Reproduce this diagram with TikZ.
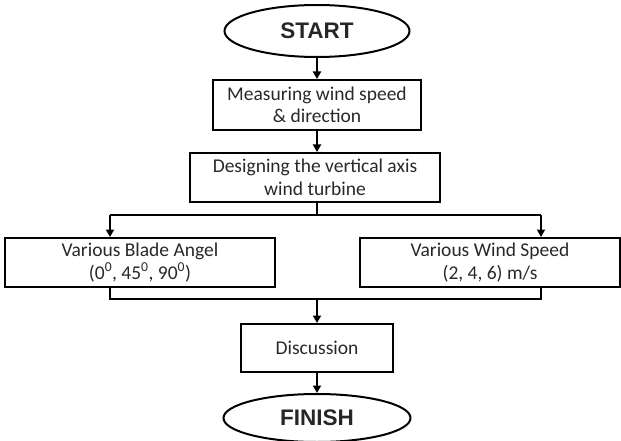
\documentclass[tikz,border=0pt]{standalone}
\usepackage{fontspec}
\setmainfont{Carlito}
\newfontfamily\arialfont{Liberation Sans}
\usetikzlibrary{arrows.meta,shapes.geometric}
\definecolor{txt}{RGB}{40,40,40}
\tikzset{
  boxnode/.style={draw=black, line width=2pt, rectangle, inner sep=0pt, align=center,
    text=txt, font=\fontsize{19.5}{22.5}\selectfont},
  termnode/.style={draw=black, line width=2pt, ellipse, inner sep=0pt,
    text=black!85, font=\arialfont\bfseries\fontsize{22.5}{25}\selectfont},
  conn/.style={line width=2pt, black},
  arr/.style={conn, -{Triangle[length=7.5pt,width=8pt]}},
}
\begin{document}
\begin{tikzpicture}[x=1pt,y=-1pt]
\useasboundingbox (0,0) rectangle (621,441);
\node[termnode, minimum width=185pt, minimum height=52pt] (start) at (317,31) {START};
\node[boxnode, minimum width=208pt, minimum height=50pt] (m1) at (317,105) {Measuring wind speed\\ \& direction};
\node[boxnode, minimum width=250pt, minimum height=49pt] (m2) at (315,177.5) {Designing the vertical axis\\ wind turbine};
\node[boxnode, minimum width=270pt, minimum height=49pt] (la) at (140,262.5) {Various Blade Angel\\ (0\textsuperscript{0}, 45\textsuperscript{0}, 90\textsuperscript{0})};
\node[boxnode, minimum width=260pt, minimum height=49pt] (ra) at (490,262.5) {Various Wind Speed\\ (2, 4, 6) m/s};
\node[boxnode, minimum width=152pt, minimum height=48pt] (disc) at (317,348) {Discussion};
\node[termnode, minimum width=187pt, minimum height=48pt] (fin) at (317,418) {FINISH};
\coordinate (split) at (317,215);
\coordinate (sl) at (110,215);
\coordinate (sr) at (541,215);
\coordinate (ml) at (110,299);
\coordinate (mr) at (541,299);
\coordinate (mc) at (317,299);
\draw[arr] (start.south) -- (start.south |- m1.north);
\draw[arr] (m1.south) -- (m1.south |- m2.north);
\draw[conn] (m2.south -| split) -- (split);
\draw[arr] (sl) -- (sl |- la.north);
\draw[arr] (sr) -- (sr |- ra.north);
\draw[conn] (sl) -- (sr);
\draw[conn] (sl |- la.south) -- (ml) -- (mr) -- (sr |- ra.south);
\draw[arr] (mc) -- (mc |- disc.north);
\draw[arr] (disc.south) -- (fin.north);
\end{tikzpicture}
\end{document}
